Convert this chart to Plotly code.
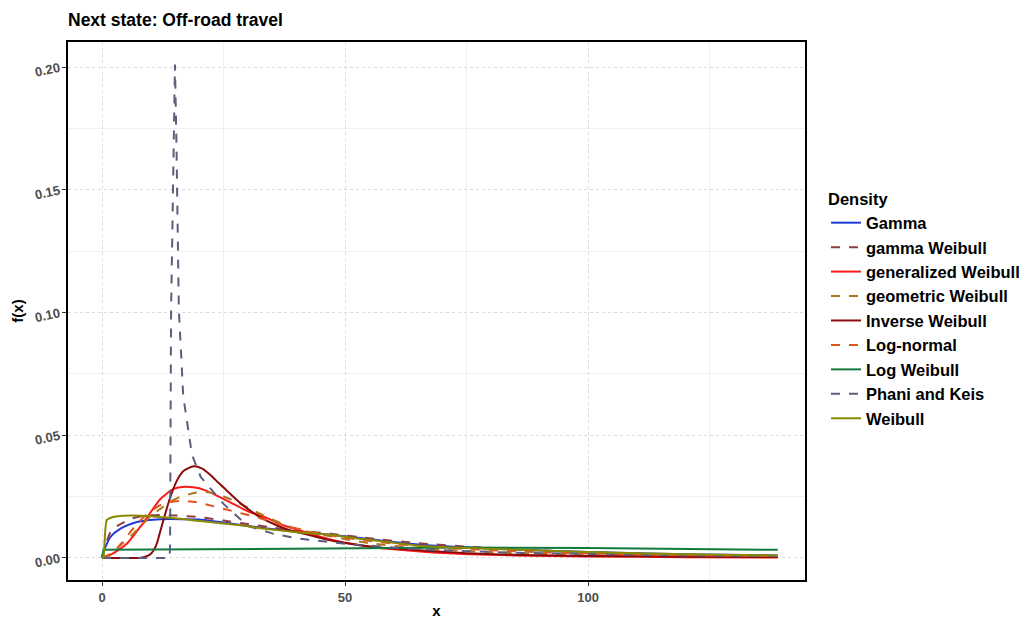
import plotly.graph_objects as go

# ---- data (x, f(x)) ----
gamma_x = [0, 0.3, 0.7, 1.7, 3.8, 6.5, 9.2, 12, 14, 17, 20, 25.7, 30, 34, 39.4, 45, 50, 57, 65, 75, 86, 100, 120, 139]
gamma_y = [0, 0.0025, 0.0045, 0.0085, 0.0119, 0.0142, 0.0153, 0.0158, 0.0159, 0.0158, 0.0156, 0.0142, 0.0130, 0.0120, 0.0108, 0.0098, 0.0088, 0.0072, 0.0055, 0.0043, 0.0033, 0.0024, 0.0015, 0.0010]

gw_x = [0, 0.5, 1, 2, 4, 6, 9, 12, 15, 20, 25, 30, 35, 40, 47, 55, 65, 75, 86, 100, 120, 139]
gw_y = [0, 0.004, 0.007, 0.0114, 0.014, 0.016, 0.0172, 0.0175, 0.0173, 0.0166, 0.0152, 0.0138, 0.0124, 0.0112, 0.0098, 0.0080, 0.0060, 0.0046, 0.0034, 0.0023, 0.0013, 0.0008]

genw_x = [0, 2, 5.1, 8.6, 12, 14.7, 17, 20, 23, 27, 30, 34, 37, 41, 47, 53, 60, 70, 85, 100, 120, 139]
genw_y = [0, 0.0015, 0.0058, 0.0146, 0.024, 0.0281, 0.029, 0.0284, 0.026, 0.022, 0.019, 0.0162, 0.0135, 0.011, 0.0075, 0.0052, 0.0035, 0.0020, 0.0010, 0.0006, 0.0003, 0.0002]

geow_x = [0, 2, 4, 6, 8, 10, 12, 14, 16, 18, 20, 22, 25, 28, 31, 34, 37, 40, 47, 55, 65, 75, 86, 100, 120, 139]
geow_y = [0, 0.002, 0.0055, 0.009, 0.013, 0.017, 0.020, 0.0228, 0.0248, 0.026, 0.0268, 0.0267, 0.025, 0.0225, 0.0195, 0.0165, 0.014, 0.0118, 0.0088, 0.006, 0.0040, 0.0028, 0.0019, 0.0012, 0.0007, 0.0004]

invw_x = [0, 7.5, 8.5, 9.2, 10, 10.6, 11.3, 12, 13, 14, 15.4, 16.8, 18.8, 20.5, 22.3, 24, 25.7, 27.5, 29.1, 32.5, 36, 39.4, 42.8, 46.2, 50, 55, 65, 75, 86, 100, 120, 139]
invw_y = [0, 0, 0.0003, 0.0007, 0.0016, 0.003, 0.006, 0.011, 0.018, 0.0245, 0.0315, 0.0355, 0.0373, 0.0365, 0.0338, 0.0305, 0.0274, 0.024, 0.0213, 0.0166, 0.0132, 0.0108, 0.0092, 0.0075, 0.0061, 0.0047, 0.0031, 0.0019, 0.0012, 0.0008, 0.0005, 0.0004]

ln_x = [0, 2, 4, 6, 8, 10, 12, 14, 16, 18, 20, 23, 26, 29, 32, 36, 40, 44, 50, 60, 70, 85, 100, 120, 139]
ln_y = [0, 0.0015, 0.006, 0.011, 0.0155, 0.019, 0.0215, 0.0228, 0.0232, 0.023, 0.0225, 0.021, 0.0195, 0.018, 0.0165, 0.014, 0.012, 0.0102, 0.0082, 0.0058, 0.0042, 0.0027, 0.0018, 0.0011, 0.0007]

logw_x = [0, 0.3, 10, 25, 50, 75, 100, 125, 139]
logw_y = [0, 0.0033, 0.0034, 0.0036, 0.0040, 0.0042, 0.0040, 0.0036, 0.0033]

pk_x = [0, 13.9, 14.0, 14.2, 14.6, 15.0, 15.3, 15.6, 15.8, 16.7, 18.5, 20.3, 25, 30, 35, 40, 45, 50, 60, 70, 85, 100, 120, 139]
pk_y = [0, 0, 0.005, 0.10, 0.15, 0.201, 0.17, 0.134, 0.101, 0.066, 0.042, 0.033, 0.022, 0.013, 0.010, 0.008, 0.0068, 0.0058, 0.0042, 0.0031, 0.0021, 0.0015, 0.0010, 0.0007]

wb_x = [0, 0.3, 1.0, 2.5, 4.4, 8, 11.2, 15, 20.2, 25, 28.4, 33.9, 40, 46.9, 53, 65, 75, 86, 100, 120, 139]
wb_y = [0, 0.0005, 0.0155, 0.0168, 0.0172, 0.0172, 0.0168, 0.0162, 0.0150, 0.0140, 0.0133, 0.0118, 0.0105, 0.0094, 0.0078, 0.0050, 0.0040, 0.0033, 0.0024, 0.0015, 0.0010]

x_ticks = [0, 50, 100]
y_ticks = [0, 0.05, 0.10, 0.15, 0.20]
y_tick_labels = ["0.00", "0.05", "0.10", "0.15", "0.20"]

series = [
    ("Gamma", gamma_x, gamma_y, "#1F3BD6", "solid", "spline"),
    ("gamma Weibull", gw_x, gw_y, "#8E3E42", "dash", "spline"),
    ("generalized Weibull", genw_x, genw_y, "#FF1A1A", "solid", "spline"),
    ("geometric Weibull", geow_x, geow_y, "#B0741E", "dash", "spline"),
    ("Inverse Weibull", invw_x, invw_y, "#8B0A0A", "solid", "spline"),
    ("Log-normal", ln_x, ln_y, "#E2531E", "dash", "spline"),
    ("Log Weibull", logw_x, logw_y, "#137A3E", "solid", "linear"),
    ("Phani and Keis", pk_x, pk_y, "#5B5E7E", "dash", "linear"),
    ("Weibull", wb_x, wb_y, "#8A8A00", "solid", "spline"),
]

fig = go.Figure()
for name, xs, ys, col, dash, shape in series:
    line = dict(color=col, width=2, dash=dash, shape=shape)
    if shape == "spline":
        line["smoothing"] = 0.6
    fig.add_trace(go.Scatter(x=xs, y=ys, mode="lines", name=name, line=line))

font_family = "Liberation Sans, Arial, sans-serif"
fig.update_layout(
    width=1025, height=619,
    margin=dict(l=68, r=220, t=42, b=39, autoexpand=False),
    plot_bgcolor="white", paper_bgcolor="white",
    font=dict(family=font_family, color="black"),
    title=dict(text="<b>Next state: Off-road travel</b>", x=68/1025, xanchor="left",
               y=1 - 20/619, yanchor="middle", font=dict(size=17.5, color="black")),
    legend=dict(title=dict(text="<b>Density</b>", font=dict(size=16.5)),
                font=dict(size=16.5, color="black", weight="bold"),
                x=(826 - 68) / 737, xanchor="left", y=(580 - 184) / 538, yanchor="top",
                tracegroupgap=0, itemwidth=30),
    showlegend=True,
)
fig.update_xaxes(
    range=[-7.0, 144.6], tickvals=x_ticks, ticktext=[f"<b>{v}</b>" for v in x_ticks],
    tickfont=dict(size=13, color="#4D4D4D"), ticks="outside", ticklen=4, tickcolor="#333333",
    showgrid=True, gridcolor="#DADADA", griddash="dot", gridwidth=1,
    minor=dict(tickvals=[25, 75, 125], showgrid=True, gridcolor="#F0F0F0", griddash="solid", gridwidth=1),
    showline=True, mirror=True, linecolor="black", linewidth=2, zeroline=False,
    automargin=False,
    title=dict(text="<b>x</b>", font=dict(size=15), standoff=6),
)
fig.update_yaxes(
    range=[-0.0090, 0.2102], tickvals=y_ticks,
    ticktext=[f"<b>{t}</b>" for t in y_tick_labels],
    tickangle=-12,
    tickfont=dict(size=13, color="#4D4D4D"), ticks="outside", ticklen=4, tickcolor="#333333",
    showgrid=True, gridcolor="#DADADA", griddash="dot", gridwidth=1,
    minor=dict(tickvals=[0.025, 0.075, 0.125, 0.175], showgrid=True, gridcolor="#F0F0F0", griddash="solid", gridwidth=1),
    showline=True, mirror=True, linecolor="black", linewidth=2, zeroline=False,
    automargin=False,
    title=dict(text="<b>f(x)</b>", font=dict(size=15), standoff=6),
)

fig.write_html("out.html")
